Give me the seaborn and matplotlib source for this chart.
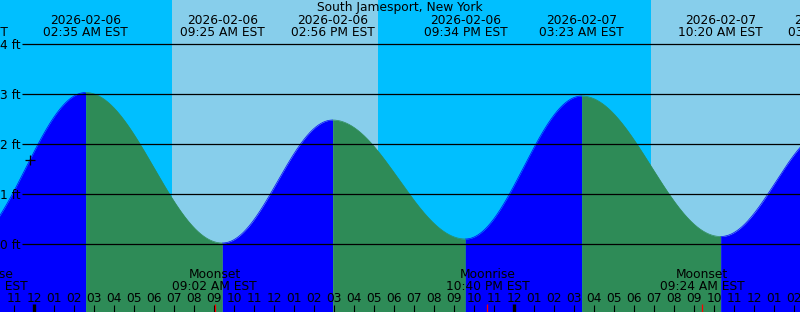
import numpy as np
import pandas as pd
import matplotlib
matplotlib.use("Agg")
import matplotlib.pyplot as plt
import matplotlib.transforms as mtransforms
import seaborn as sns

# ---------------- data (hours after 2026-02-06 00:00 EST) ----------------
title = "South Jamesport, New York"
extreme_hours = [-3.42, 2.583, 9.417, 14.933, 21.567, 27.383, 34.333, 39.783]
extreme_heights = [0.00, 3.03, 0.02, 2.48, 0.10, 2.96, 0.15, 2.30]
extreme_dates = ["2026-02-05", "2026-02-06", "2026-02-06", "2026-02-06",
                 "2026-02-06", "2026-02-07", "2026-02-07", "2026-02-07"]
extreme_times = ["08:35 PM EST", "02:35 AM EST", "09:25 AM EST", "02:56 PM EST",
                 "09:34 PM EST", "03:23 AM EST", "10:20 AM EST", "03:47 PM EST"]
sunrise_hours = [6.9, 30.85]
sunset_hours = [17.2, 41.2]
moon_hours = [-2.4, 9.033, 22.667, 33.4]
moon_events = ["Moonrise", "Moonset", "Moonrise", "Moonset"]
moon_times = ["09:36 PM EST", "09:02 AM EST", "10:40 PM EST", "09:24 AM EST"]
height_levels = [0, 1, 2, 3, 4]
height_labels = ["0 ft", "1 ft", "2 ft", "3 ft", "4 ft"]
hour_ticks = list(range(-1, 39))
now_hour = -0.2

# ---------------- style ----------------
NIGHT = "#00BFFF"
DAY = "#87CEEB"
RISE = "#0000FF"
FALL = "#2E8B57"
FS = 8.8

sns.set_theme(style="white")
plt.rcParams["font.family"] = ["DejaVu Sans"]

W, H = 800, 312
fig = plt.figure(figsize=(W / 100, H / 100), dpi=100)
ax = fig.add_axes([0, 0, 1, 1])

# pixel mapping (layout only)
X0, PX_PER_HR = 34.0, 20.0
Y0, PX_PER_FT = 244.0, 50.0


def tx(px):
    return (px - X0) / PX_PER_HR


def hy(py):
    return (Y0 - py) / PX_PER_FT


ax.set_xlim(tx(0), tx(W))
ax.set_ylim(hy(H), hy(0))
ax.set_facecolor(NIGHT)
for s in ax.spines.values():
    s.set_visible(False)
ax.set_xticks([])
ax.set_yticks([])

# day shading
for sr, ss in zip(sunrise_hours, sunset_hours):
    ax.axvspan(sr, ss, color=DAY, lw=0, zorder=0.5)

# tide curve (cosine shape between successive extremes)
rows = []
for i in range(len(extreme_hours) - 1):
    t0, t1 = extreme_hours[i], extreme_hours[i + 1]
    h0, h1 = extreme_heights[i], extreme_heights[i + 1]
    tt = np.linspace(t0, t1, 300)
    f = (tt - t0) / (t1 - t0)
    hh = h0 + (h1 - h0) * (1 - np.cos(np.pi * f)) / 2
    phase = "rising" if h1 > h0 else "falling"
    for a, b in zip(tt, hh):
        rows.append((a, b, phase, i))
curve = pd.DataFrame(rows, columns=["hour", "height", "phase", "segment"])

for seg, d in curve.groupby("segment"):
    col = RISE if d["phase"].iloc[0] == "rising" else FALL
    ax.fill_between(d["hour"], d["height"], hy(H) - 1, color=col, lw=0,
                    antialiased=False, zorder=1)

sns.lineplot(data=curve, x="hour", y="height", hue="phase", units="segment",
             estimator=None, palette={"rising": RISE, "falling": FALL},
             linewidth=0.5, legend=False, ax=ax, zorder=1.1)
ax.set_xlabel("")
ax.set_ylabel("")
ax.set_xlim(tx(0), tx(W))
ax.set_ylim(hy(H), hy(0))

# height grid lines and labels
ax.hlines(height_levels, tx(22), tx(W + 5), color="black", lw=0.9, zorder=2)
for lv, lab in zip(height_levels, height_labels):
    ax.text(tx(20.5), lv, lab, ha="right", va="center_baseline",
            fontsize=FS, color="black", zorder=3)

# current-time marker on curve
now_h = np.interp(now_hour, curve["hour"], curve["height"])
ax.plot([now_hour], [now_h], marker="+", color="black", ms=7, mew=0.9,
        zorder=3)

# header labels
bt = mtransforms.blended_transform_factory(ax.transData, ax.transAxes)


def yfrac(py):
    return 1 - py / H


ax.text(0.5, yfrac(11.5), title, transform=ax.transAxes, ha="center",
        va="baseline", fontsize=FS, color="black", zorder=3)
for t, d, tm in zip(extreme_hours, extreme_dates, extreme_times):
    ax.text(t, yfrac(24.5), d, transform=bt, ha="center", va="baseline",
            fontsize=FS, color="black", zorder=3)
    ax.text(t, yfrac(36), tm, transform=bt, ha="center", va="baseline",
            fontsize=FS, color="black", zorder=3)

# moon labels
for t, ev, tm in zip(moon_hours, moon_events, moon_times):
    ax.text(t, yfrac(278.5), ev, transform=bt, ha="center", va="baseline",
            fontsize=FS, color="black", zorder=3)
    ax.text(t, yfrac(290), tm, transform=bt, ha="center", va="baseline",
            fontsize=FS, color="black", zorder=3)

# hour ticks and labels
for hr in hour_ticks:
    lab = "%02d" % (((hr % 12) + 11) % 12 + 1)
    ax.text(hr, yfrac(302), lab, transform=bt, ha="center", va="baseline",
            fontsize=FS, color="black", zorder=3)
    midnight = hr % 24 == 0
    ax.vlines(hr, 0, yfrac(305 if not midnight else 304), transform=bt,
              color="black", lw=2.4 if midnight else 0.8, zorder=3)
for t in moon_hours:
    ax.vlines(t, 0, yfrac(304), transform=bt, color="red", lw=0.9, zorder=3.1)

fig.savefig("out.png", dpi=100)
